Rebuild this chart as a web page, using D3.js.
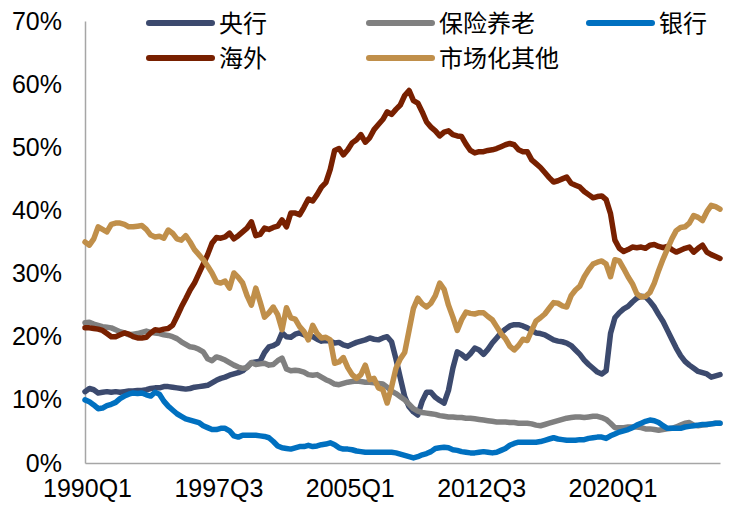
<!DOCTYPE html>
<html><head><meta charset="utf-8">
<script src="https://cdn.jsdelivr.net/npm/d3@7"></script>
<style>
html,body{margin:0;padding:0;background:#fff;}
svg{display:block;}
</style>
</head><body>
<svg id="chart" width="740" height="512"></svg>
<script>
// ---- data (percent of total holdings) ----
const startYear = 1990;
const nQuarters = 146;
const quarters = [];
for (let k = 0; k < nQuarters; k++) quarters.push((startYear + Math.floor(k / 4)) + "Q" + (k % 4 + 1));

const tickLabels = ["1990Q1", "1997Q3", "2005Q1", "2012Q3", "2020Q1"];
const yTicks = [0, 10, 20, 30, 40, 50, 60, 70];

const seriesNames = ["央行", "保险养老", "银行", "海外", "市场化其他"];
const seriesColors = ["#3c4a6e", "#808080", "#0070c0", "#782000", "#c08f4a"];

const centralBank = [11.3,11.8,11.6,11.1,11.2,11.3,11.2,11.3,11.2,11.3,
 11.4,11.4,11.5,11.5,11.6,11.8,11.9,11.9,12.1,12.1,
 12.0,11.9,11.8,11.7,11.8,12.0,12.1,12.2,12.3,12.7,
 13.1,13.4,13.6,13.9,14.1,14.3,14.6,15.2,15.9,16.0,
 16.1,17.5,18.4,18.6,19.0,20.6,20.0,19.9,20.4,20.6,
 20.3,20.1,20.0,19.6,19.3,19.4,19.3,19.0,19.1,18.7,
 18.5,18.8,19.1,19.3,19.5,19.8,19.6,19.5,19.8,20.0,
 19.2,16.5,13.5,10.5,8.9,8.1,7.6,9.8,11.2,11.2,
 10.4,9.9,9.5,11.5,15.0,17.6,17.2,16.6,17.3,18.2,
 17.9,17.2,18.0,19.0,19.8,20.6,21.2,21.7,21.9,21.9,
 21.7,21.4,21.0,20.6,20.5,20.3,19.9,19.5,19.3,19.2,
 19.0,18.6,17.9,17.2,16.3,15.6,15.0,14.4,14.1,14.6,
 20.5,23.0,23.8,24.4,24.8,25.5,26.1,26.4,26.3,25.6,
 24.7,23.5,22.4,21.0,19.6,18.2,17.0,16.1,15.5,15.0,
 14.5,14.3,14.1,13.6,13.8,14.0];

const insurancePension = [22.2,22.3,22.0,21.8,21.6,21.5,21.4,21.1,20.8,20.6,
 20.3,20.4,20.5,20.7,20.9,20.7,20.6,20.5,20.3,20.2,
 20.0,19.7,19.2,18.8,18.4,18.3,18.0,17.6,16.5,16.2,
 16.8,16.6,16.3,15.9,15.5,15.2,15.0,15.1,15.9,15.6,
 15.7,15.8,15.5,15.6,16.2,16.6,14.9,14.6,14.7,14.6,
 14.4,14.0,13.9,14.0,13.6,13.2,12.9,12.5,12.4,12.6,
 12.8,12.9,13.0,12.9,12.8,12.8,12.7,12.6,12.5,12.0,
 11.4,11.0,10.5,10.0,9.3,8.6,8.2,8.0,7.9,7.8,
 7.7,7.5,7.4,7.3,7.3,7.2,7.2,7.1,7.1,7.0,
 6.9,6.8,6.7,6.6,6.5,6.5,6.5,6.4,6.4,6.3,
 6.3,6.3,6.2,6.0,5.9,6.1,6.3,6.5,6.7,6.9,
 7.1,7.2,7.3,7.3,7.2,7.3,7.4,7.4,7.2,6.9,
 6.3,5.6,5.6,5.6,5.7,5.7,5.7,5.6,5.4,5.4,
 5.3,5.2,5.3,5.4,5.5,5.7,6.0,6.3,6.4,6.0,
 5.9,6.0,6.1,6.2,6.3,6.3];

const banks = [10.0,9.7,9.2,8.6,8.7,9.1,9.3,9.6,10.2,10.6,
 10.9,11.1,11.0,11.1,10.8,10.6,11.2,10.9,9.8,9.0,
 8.4,7.8,7.4,7.0,6.8,6.6,6.4,5.9,5.6,5.3,
 5.3,5.5,5.5,5.1,4.3,4.1,4.4,4.4,4.4,4.4,
 4.3,4.2,4.0,3.4,2.7,2.4,2.3,2.2,2.4,2.6,
 2.6,2.8,2.6,2.7,2.9,3.0,3.2,2.9,2.4,2.2,
 2.2,2.1,1.9,1.8,1.7,1.7,1.7,1.7,1.7,1.7,
 1.7,1.6,1.4,1.2,1.0,0.8,1.0,1.3,1.5,1.8,
 2.3,2.4,2.5,2.4,2.1,2.0,1.8,1.7,1.6,1.6,
 1.7,1.8,1.7,1.6,1.7,2.0,2.3,2.8,3.1,3.3,
 3.3,3.3,3.3,3.3,3.4,3.6,3.8,4.0,3.8,3.7,
 3.6,3.6,3.6,3.7,3.7,3.9,4.0,4.1,4.1,3.9,
 4.3,4.6,4.9,5.1,5.3,5.6,6.0,6.3,6.6,6.8,
 6.7,6.4,5.9,5.5,5.5,5.5,5.5,5.7,5.8,5.9,
 6.0,6.1,6.1,6.2,6.3,6.3];

const foreign = [21.4,21.4,21.3,21.2,21.0,20.5,20.0,20.0,20.3,20.6,
 20.4,20.0,19.8,19.8,19.9,20.6,21.1,21.0,21.2,21.3,
 21.8,23.2,24.7,26.0,27.4,28.5,30.0,31.5,33.0,34.8,
 35.7,35.6,35.8,36.4,35.5,36.0,36.6,37.2,38.2,36.0,
 36.2,37.2,37.0,37.3,37.5,38.5,37.4,39.6,39.6,39.3,
 40.5,41.8,41.5,42.5,43.7,44.4,46.5,49.5,49.8,48.8,
 49.6,50.7,51.2,52.0,50.8,51.5,52.8,53.6,54.4,55.6,
 55.2,56.0,56.7,58.2,59.0,57.4,57.0,55.6,54.0,53.2,
 52.6,51.8,52.4,52.6,52.0,51.8,51.7,50.5,49.5,49.1,
 49.3,49.3,49.5,49.6,49.8,50.1,50.4,50.6,50.4,49.6,
 49.3,49.3,48.0,47.4,46.8,46.0,45.2,44.5,44.7,45.0,
 45.3,44.3,44.0,43.7,43.0,42.5,42.0,42.2,42.3,41.7,
 39.5,35.3,34.0,33.5,33.8,34.2,34.1,34.2,34.0,34.5,
 34.6,34.3,34.1,34.3,33.8,33.4,33.7,34.0,34.2,33.4,
 34.0,34.5,33.4,33.0,32.7,32.4];

const marketOther = [35.0,34.5,35.5,37.4,37.0,36.6,37.8,38.0,38.0,37.8,
 37.4,37.4,37.5,37.6,37.0,36.1,35.8,35.9,35.6,36.9,
 36.4,35.5,35.3,36.0,35.0,33.8,33.0,32.2,31.2,30.1,
 28.7,28.5,28.8,27.7,30.1,29.4,28.5,26.5,25.0,27.7,
 25.5,23.1,23.8,24.7,23.5,21.1,24.6,23.0,22.8,21.6,
 20.8,19.5,21.8,20.5,19.8,19.9,19.5,15.8,16.0,16.7,
 15.1,14.0,13.4,14.0,15.5,13.2,13.4,11.9,11.6,9.5,
 12.0,15.0,16.5,17.5,21.0,24.5,26.1,25.2,24.7,25.3,
 26.5,28.5,27.5,25.0,23.1,21.0,22.7,23.9,23.7,23.6,
 23.8,23.8,23.2,22.7,21.6,20.5,19.7,18.5,17.9,18.6,
 19.6,19.4,21.0,22.5,23.0,23.6,24.5,25.4,25.3,24.9,
 24.7,26.5,27.4,28.0,29.5,30.6,31.5,31.8,32.0,31.5,
 29.5,32.2,32.0,30.8,29.5,28.4,26.8,26.3,26.4,27.0,
 28.5,30.5,32.3,33.9,35.5,36.8,37.3,37.4,38.0,39.2,
 38.9,38.4,39.8,40.8,40.6,40.2];

const seriesValues = [centralBank, insurancePension, banks, foreign, marketOther];

// ---- drawing ----
const svg = d3.select("#chart");
const x = d3.scalePoint().domain(quarters).range([85, 720]);
const y = d3.scaleLinear().domain([0, 70]).range([463, 21]);

const axisColor = "#a6a6a6";
const numFont = "'Liberation Sans', Arial, sans-serif";
const cjkFont = "'Noto Sans CJK SC', sans-serif";

// Y axis
const yAxis = svg.append("g").attr("transform", "translate(85,0)")
  .call(d3.axisLeft(y).tickValues(yTicks).tickSize(0).tickPadding(23).tickFormat(d => d + "%"));
yAxis.select(".domain").attr("stroke", axisColor).attr("stroke-width", 1.5);
yAxis.selectAll("text").attr("font-family", numFont).attr("font-size", 25).attr("fill", "#000");

// X axis
const xAxis = svg.append("g").attr("transform", "translate(0,463)")
  .call(d3.axisBottom(x).tickValues(tickLabels).tickSize(0).tickPadding(16));
xAxis.select(".domain").attr("stroke", axisColor).attr("stroke-width", 1.5);
xAxis.selectAll("text").attr("font-family", numFont).attr("font-size", 25).attr("fill", "#000")
  .attr("dx", 2);

// Lines
const line = d3.line().x((d, i) => x(quarters[i])).y(d => y(d)).curve(d3.curveLinear);
seriesValues.forEach((vals, s) => {
  svg.append("path").datum(vals)
    .attr("d", line)
    .attr("fill", "none")
    .attr("stroke", seriesColors[s])
    .attr("stroke-width", 5.5)
    .attr("stroke-linejoin", "round")
    .attr("stroke-linecap", "round");
});

// Legend
const legendPos = [[149, 23], [369, 23], [589, 23], [149, 58], [369, 58]];
seriesNames.forEach((name, s) => {
  const [lx, ly] = legendPos[s];
  const g = svg.append("g");
  g.append("line").attr("x1", lx).attr("x2", lx + 63).attr("y1", ly).attr("y2", ly)
    .attr("stroke", seriesColors[s]).attr("stroke-width", 6).attr("stroke-linecap", "round");
  g.append("text").attr("x", lx + 70).attr("y", ly + 9)
    .attr("font-family", cjkFont).attr("font-size", 24).attr("fill", "#000").text(name);
});
</script>
</body></html>
